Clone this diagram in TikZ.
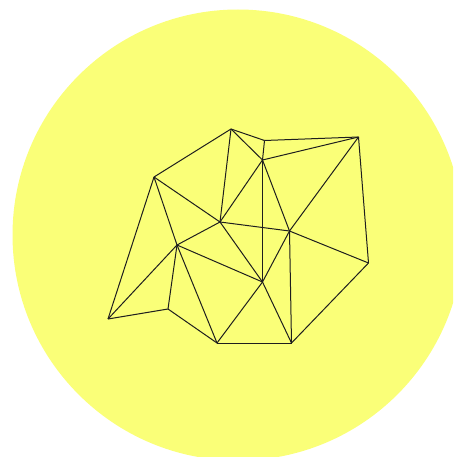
\documentclass[tikz,border=0pt]{standalone}
\usepackage{tikz}
\definecolor{MeshYellow}{HTML}{FAFF78}
\definecolor{MeshLine}{HTML}{1E1E1E}
\begin{document}
\begin{tikzpicture}[x=1pt,y=-1pt,
    meshedge/.style={MeshLine,line width=1pt,line join=round}]
    \useasboundingbox (0,0) rectangle (453,457);
    \clip (0,0) rectangle (453,457);
    \fill[MeshYellow] (238,235) circle (225.5);
    \foreach \n/\x/\y in {a/231/129,b/264.5/140.5,c/358.5/137,d/262.5/160,e/154/177,f/220/222,g/289.5/231,
      h/177/245,i/368.5/263,j/262.5/282,k/108/319,l/168/309,m/217/343,n/291.5/343}{
      \coordinate (\n) at (\x,\y);
    }
    \foreach \s/\t in {e/a,a/b,b/c,b/d,a/d,a/f,d/c,d/f,d/j,d/g,c/g,c/i,e/f,e/h,e/k,f/h,
      f/g,f/j,g/j,g/i,g/n,i/n,h/k,h/l,h/j,h/m,k/l,l/m,j/m,j/n,m/n}{
      \draw[meshedge] (\s) -- (\t);
    }
  \end{tikzpicture}
\end{document}
